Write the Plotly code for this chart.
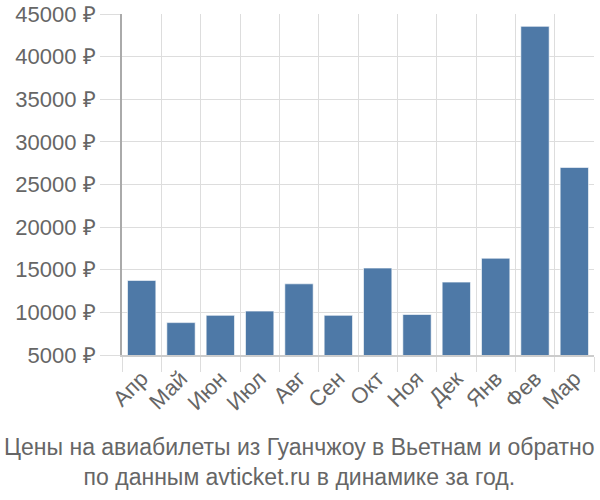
import plotly.graph_objects as go

# Input
months = ['Апр', 'Май', 'Июн', 'Июл', 'Авг', 'Сен', 'Окт', 'Ноя', 'Дек', 'Янв', 'Фев', 'Мар']
prices = [13750, 8800, 9650, 10150, 13350, 9650, 15200, 9750, 13550, 16350, 43550, 27000]
caption = 'Цены на авиабилеты из Гуанчжоу в Вьетнам и обратно<br>по данным avticket.ru в динамике за год.'

fig = go.Figure()

fig.add_trace(go.Bar(
    x=months,
    y=prices,
    marker=dict(color='#4e79a7', line=dict(color='rgba(255,255,255,0.6)', width=1)),
))

fig.update_layout(
    width=600, height=500,
    margin=dict(l=122, r=6, t=14, b=145, autoexpand=False),
    plot_bgcolor='white', paper_bgcolor='white',
    font=dict(family='Liberation Sans, Arial, sans-serif', size=22, color='#666'),
    bargap=0.28,
    showlegend=False,
)

fig.update_xaxes(
    range=[-0.5, 11.5],
    tickangle=-45,
    showgrid=True, gridcolor='#ddd', gridwidth=1,
    tickson='boundaries', ticks='outside', ticklen=15, tickcolor='#ddd',
    showline=True, linecolor='#ccc', linewidth=2,
)

fig.update_yaxes(
    range=[5000, 45000], dtick=5000, tickformat='d', ticksuffix=' ₽',
    showgrid=True, gridcolor='#ddd', gridwidth=1,
    showline=True, linecolor='#aaa', linewidth=2,
    ticks='outside', ticklen=20, tickcolor='#ddd', zeroline=False,
)

fig.add_annotation(
    text=caption, xref='paper', yref='paper',
    x=0.377, y=-0.225, xanchor='center', yanchor='top',
    showarrow=False, align='center',
    font=dict(size=23, color='#666'),
)

# page has an 8px body margin by default; drop it so the 600x500 figure fits the window
fig.write_html("out.html", config={'displayModeBar': False},
               post_script="document.body.style.margin='0';")
